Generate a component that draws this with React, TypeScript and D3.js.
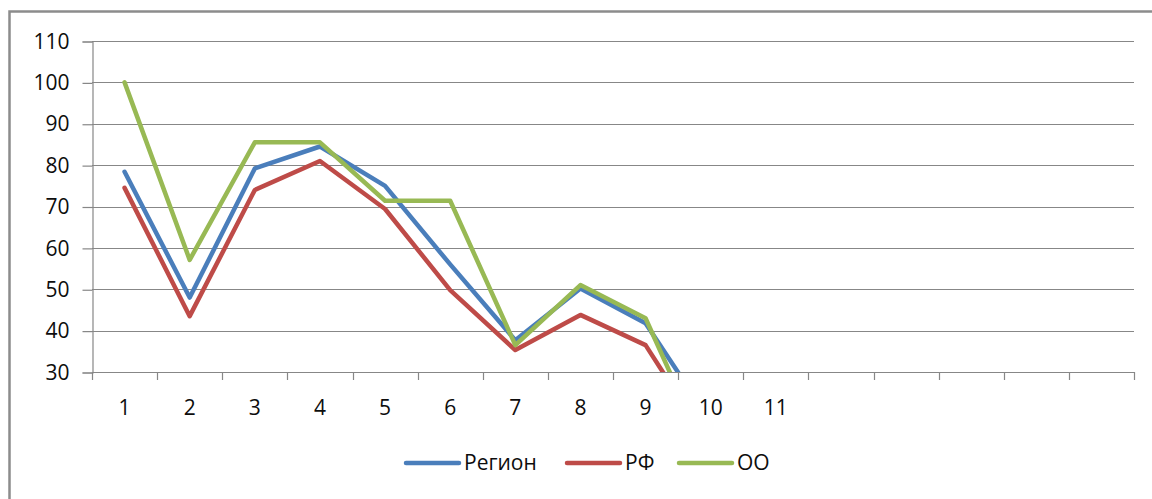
import { useEffect, useRef } from 'react';
import * as d3 from 'd3';

const categories = ['1', '2', '3', '4', '5', '6', '7', '8', '9', '10', '11', '', '', '', '', ''];
const yTicks = [30, 40, 50, 60, 70, 80, 90, 100, 110];

const seriesNames = ['Регион', 'РФ', 'ОО'];
const seriesColors = ['#4A7EBB', '#BE4B48', '#98B954'];
const region = [78.4, 48, 79.2, 84.5, 75, 56, 37.7, 50.2, 41.8, 18];
const rf = [74.5, 43.5, 74, 81, 69.4, 49.8, 35.3, 43.8, 36.5, 12];
const oo = [100, 57.1, 85.5, 85.5, 71.4, 71.4, 36.5, 51, 43, 8];

const W = 1152;
const H = 499;
const FONT = '"Open Sans", sans-serif';
const GRID = '#878787';
const TEXT = '#0d0d0d';

export default function App() {
  const svgRef = useRef<SVGSVGElement>(null);

  useEffect(() => {
    if (!svgRef.current) return;
    const svg = d3.select(svgRef.current);
    svg.selectAll('*').remove();

    const plot = { left: 92, right: 1134, top: 41, bottom: 372 };

    const x = d3.scaleBand<number>()
      .domain(categories.map((_, i) => i))
      .range([plot.left, plot.right])
      .paddingInner(0)
      .paddingOuter(0);
    const cx = (i: number) => (x(i) as number) + x.bandwidth() / 2;

    const y = d3.scaleLinear().domain([30, 110]).range([plot.bottom, plot.top]);

    svg.append('rect').attr('width', W).attr('height', H).attr('fill', '#fff');

    // outer frame (left + top visible)
    svg.append('path')
      .attr('d', `M9.5,${H} L9.5,11.5 L${W},11.5`)
      .attr('fill', 'none')
      .attr('stroke', '#8c8c8c')
      .attr('stroke-width', 2.5);

    // gridlines
    svg.append('g')
      .selectAll('line')
      .data(yTicks)
      .join('line')
      .attr('x1', plot.left)
      .attr('x2', plot.right)
      .attr('y1', d => Math.round(y(d)) + 0.5)
      .attr('y2', d => Math.round(y(d)) + 0.5)
      .attr('stroke', GRID)
      .attr('stroke-width', 1.2);

    // y axis
    const yAxis = d3.axisLeft(y).tickValues(yTicks).tickSize(10).tickPadding(13);
    const gy = svg.append('g')
      .attr('transform', `translate(${plot.left + 0.5},0.5)`)
      .call(yAxis);
    gy.select('.domain').attr('stroke', GRID).attr('stroke-width', 1.2);
    gy.selectAll('.tick line').attr('stroke', GRID).attr('stroke-width', 1.2);
    gy.selectAll('.tick text')
      .attr('fill', TEXT)
      .attr('font-family', FONT)
      .attr('font-size', 21);

    // x axis ticks at band edges
    const edges = categories.map((_, i) => x(i) as number).concat([plot.right]);
    svg.append('g')
      .selectAll('line')
      .data(edges)
      .join('line')
      .attr('x1', d => Math.round(d) + 0.5)
      .attr('x2', d => Math.round(d) + 0.5)
      .attr('y1', plot.bottom)
      .attr('y2', plot.bottom + 8)
      .attr('stroke', GRID)
      .attr('stroke-width', 1.2);

    svg.append('g')
      .selectAll('text')
      .data(categories)
      .join('text')
      .attr('x', (_, i) => cx(i))
      .attr('y', 415)
      .attr('text-anchor', 'middle')
      .attr('fill', TEXT)
      .attr('font-family', FONT)
      .attr('font-size', 21)
      .text(d => d);

    // clip
    svg.append('defs')
      .append('clipPath')
      .attr('id', 'plot-clip')
      .append('rect')
      .attr('x', plot.left)
      .attr('y', 0)
      .attr('width', plot.right - plot.left)
      .attr('height', plot.bottom);

    const line = d3.line<number>()
      .x((_, i) => cx(i))
      .y(d => y(d));

    const series = [region, rf, oo];
    svg.append('g')
      .attr('clip-path', 'url(#plot-clip)')
      .selectAll('path')
      .data(series)
      .join('path')
      .attr('d', d => line(d))
      .attr('fill', 'none')
      .attr('stroke', (_, i) => seriesColors[i])
      .attr('stroke-width', 4.5)
      .attr('stroke-linejoin', 'round')
      .attr('stroke-linecap', 'round');

    // legend
    const legendX = [406, 567, 679];
    const legendY = 463;
    const lg = svg.append('g');
    seriesNames.forEach((name, i) => {
      lg.append('line')
        .attr('x1', legendX[i])
        .attr('x2', legendX[i] + 53)
        .attr('y1', legendY)
        .attr('y2', legendY)
        .attr('stroke', seriesColors[i])
        .attr('stroke-width', 4.5)
        .attr('stroke-linecap', 'round');
      lg.append('text')
        .attr('x', legendX[i] + 58)
        .attr('y', legendY)
        .attr('dy', '0.35em')
        .attr('fill', TEXT)
        .attr('font-family', FONT)
        .attr('font-size', 21)
        .text(name);
    });
  }, []);

  return (
    <svg
      ref={svgRef}
      width={W}
      height={H}
      style={{ position: 'absolute', left: 0, top: 0, display: 'block' }}
    />
  );
}
